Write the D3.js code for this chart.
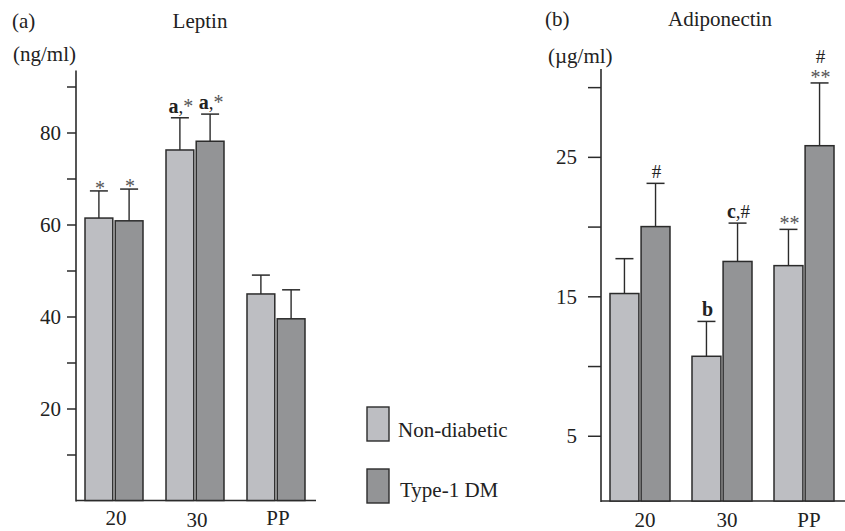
<!DOCTYPE html>
<html><head><meta charset="utf-8">
<script src="https://cdn.jsdelivr.net/npm/d3@7"></script>
<style>
html,body{margin:0;padding:0;background:#fff;}
svg{display:block;font-family:"Liberation Serif","Times New Roman",serif;}
</style></head>
<body>
<svg id="chart" width="845" height="531"></svg>
<script>
// ---- data ----
const categories = ["20", "30", "PP"];
const seriesNames = ["Non-diabetic", "Type-1 DM"];

const leptinNonDiabetic = [61.4, 76.2, 44.9];
const leptinNonDiabeticErr = [5.9, 7.0, 4.1];
const leptinType1 = [60.8, 78.1, 39.5];
const leptinType1Err = [6.9, 5.9, 6.3];
const leptinNotesNonDiabetic = [["*"], ["a,*"], []];
const leptinNotesType1 = [["*"], ["a,*"], []];
const leptinMajorTicks = [20, 40, 60, 80];
const leptinMinorTicks = [10, 30, 50, 70, 90];

const adipoNonDiabetic = [15.2, 10.7, 17.2];
const adipoNonDiabeticErr = [2.5, 2.5, 2.6];
const adipoType1 = [20.0, 17.5, 25.8];
const adipoType1Err = [3.1, 2.75, 4.5];
const adipoNotesNonDiabetic = [[], ["b"], ["**"]];
const adipoNotesType1 = [["#"], ["c,#"], ["#", "**"]];
const adipoMajorTicks = [5, 15, 25];
const adipoMinorTicks = [10, 20, 30];

const colors = ["#bdbec2", "#939496"];

// ---- drawing ----
const svg = d3.select("#chart");
const FONT = 21;
const ink = "#2b2b2b";

function drawPanel(cfg) {
  const g = svg.append("g");
  const y = d3.scaleLinear().domain(cfg.domain).range(cfg.yRange);
  const x = d3.scaleBand().domain(categories).range(cfg.xRange)
    .paddingInner(cfg.padInner).paddingOuter(cfg.padOuter);
  const xs = d3.scaleBand().domain(seriesNames).range([0, x.bandwidth()]).paddingInner(cfg.barGap);

  const base = y(cfg.floor);

  // y axis: major
  const axMaj = d3.axisLeft(y).tickValues(cfg.major).tickSize(cfg.tickLen)
    .tickPadding(cfg.tickPad).tickFormat(d3.format("d"));
  const ga = g.append("g").attr("transform", `translate(${cfg.axisX},0)`).call(axMaj);
  const axMin = d3.axisLeft(y).tickValues(cfg.minor).tickSize(cfg.tickLen).tickFormat("");
  const gm = g.append("g").attr("transform", `translate(${cfg.axisX},0)`).call(axMin);
  [ga, gm].forEach(a => {
    a.select(".domain").remove();
    a.selectAll("line").attr("stroke", ink).attr("stroke-width", 1.5);
    a.selectAll("text").attr("fill", "#222").style("font-size", FONT + "px")
      .style("font-family", "Liberation Serif");
  });
  g.append("line").attr("x1", cfg.axisX).attr("x2", cfg.axisX)
    .attr("y1", y(cfg.domain[1])).attr("y2", base + 1)
    .attr("stroke", ink).attr("stroke-width", 1.6);
  g.append("line").attr("x1", cfg.axisX).attr("x2", cfg.baseEnd)
    .attr("y1", base).attr("y2", base).attr("stroke", ink).attr("stroke-width", 1.6);

  // bars
  const rows = [];
  categories.forEach((c, i) => {
    cfg.series.forEach((s, j) => {
      rows.push({cat: c, ser: seriesNames[j], v: s.values[i], e: s.err[i], notes: s.notes[i], j});
    });
  });
  const bx = d => x(d.cat) + xs(d.ser);
  g.selectAll("rect.bar").data(rows).join("rect").attr("class", "bar")
    .attr("x", bx).attr("width", xs.bandwidth())
    .attr("y", d => y(d.v)).attr("height", d => base - y(d.v))
    .attr("fill", d => colors[d.j]).attr("stroke", ink).attr("stroke-width", 1.5);

  // error bars
  const capW = 18;
  g.selectAll("line.err").data(rows).join("line").attr("class", "err")
    .attr("x1", d => bx(d) + xs.bandwidth() / 2).attr("x2", d => bx(d) + xs.bandwidth() / 2)
    .attr("y1", d => y(d.v)).attr("y2", d => y(d.v + d.e))
    .attr("stroke", ink).attr("stroke-width", 1.4);
  g.selectAll("line.cap").data(rows).join("line").attr("class", "cap")
    .attr("x1", d => bx(d) + xs.bandwidth() / 2 - capW / 2).attr("x2", d => bx(d) + xs.bandwidth() / 2 + capW / 2)
    .attr("y1", d => y(d.v + d.e)).attr("y2", d => y(d.v + d.e))
    .attr("stroke", ink).attr("stroke-width", 1.5);

  // annotations
  rows.forEach(d => {
    const cx = bx(d) + xs.bandwidth() / 2 + 1;
    const capY = y(d.v + d.e);
    const n = d.notes.length;
    d.notes.forEach((line, k) => {
      const starOnly = /^\*+$/.test(line);
      let by = starOnly ? capY + (n > 1 || cfg.id === "b" ? 1 : 4) : capY - 5;
      if (k < n - 1) by = capY - 20 - (n - 2 - k) * 18;
      const t = g.append("text").attr("x", cx).attr("y", by).attr("text-anchor", "middle")
        .attr("fill", "#222").style("font-size", "19px");
      line.split("").forEach(ch => {
        const isLetter = /[a-z]/.test(ch);
        const sp = t.append("tspan").text(ch);
        if (isLetter) sp.attr("font-weight", "bold").style("font-size", "20px");
        if (ch === "*") sp.attr("fill", "#555").style("font-size", "20px");
      });
    });
  });

  // x labels
  g.selectAll("text.xl").data(categories).join("text").attr("class", "xl")
    .attr("x", c => x(c) + x.bandwidth() / 2 + cfg.labelDx)
    .attr("y", (c, i) => cfg.labelY[i]).attr("text-anchor", "middle")
    .attr("fill", "#222").style("font-size", FONT + "px").text(c => c);

  // titles
  g.append("text").attr("x", cfg.tagX).attr("y", cfg.titleY).attr("fill", "#222")
    .style("font-size", FONT + "px").text(cfg.tag);
  g.append("text").attr("x", cfg.titleX).attr("y", cfg.titleY).attr("text-anchor", "middle")
    .attr("fill", "#222").style("font-size", FONT + "px").text(cfg.title);
  g.append("text").attr("x", cfg.unitX).attr("y", cfg.unitY).attr("fill", "#222")
    .style("font-size", FONT + "px").text(cfg.unit);
}

drawPanel({
  id: "a", tag: "(a)", title: "Leptin", unit: "(ng/ml)",
  tagX: 12, titleX: 200, titleY: 28, unitX: 13, unitY: 61,
  domain: [0, 93.5], yRange: [500.5, 70.4], floor: 0,
  axisX: 76, baseEnd: 316, tickLen: 9, tickPad: 6,
  xRange: [73.5, 316.5], padInner: 23 / 81, padOuter: 0.142, barGap: 0.08,
  major: leptinMajorTicks, minor: leptinMinorTicks,
  labelDx: 2, labelY: [525, 527, 525],
  series: [
    {values: leptinNonDiabetic, err: leptinNonDiabeticErr, notes: leptinNotesNonDiabetic},
    {values: leptinType1, err: leptinType1Err, notes: leptinNotesType1}
  ]
});

drawPanel({
  id: "b", tag: "(b)", title: "Adiponectin", unit: "(\u00b5g/ml)",
  tagX: 545, titleX: 720, titleY: 26, unitX: 548, unitY: 63,
  domain: [0, 31.3], yRange: [505.5, 69], floor: 0.32,
  axisX: 601, baseEnd: 845, tickLen: 13, tickPad: 11,
  xRange: [599, 845], padInner: 22 / 82, padOuter: 0.134, barGap: 0.07,
  major: adipoMajorTicks, minor: adipoMinorTicks,
  labelDx: 5, labelY: [527, 527, 527],
  series: [
    {values: adipoNonDiabetic, err: adipoNonDiabeticErr, notes: adipoNotesNonDiabetic},
    {values: adipoType1, err: adipoType1Err, notes: adipoNotesType1}
  ]
});

// legend
const legend = svg.append("g");
const legendY = [407, 469];
seriesNames.forEach((s, i) => {
  legend.append("rect").attr("x", 367).attr("y", legendY[i]).attr("width", 22).attr("height", 34)
    .attr("fill", colors[i]).attr("stroke", ink).attr("stroke-width", 1.4);
  legend.append("text").attr("x", 398 + i * 2).attr("y", legendY[i] + 30 - i * 2)
    .attr("fill", "#222").style("font-size", FONT + "px").text(s);
});
</script>
</body></html>
